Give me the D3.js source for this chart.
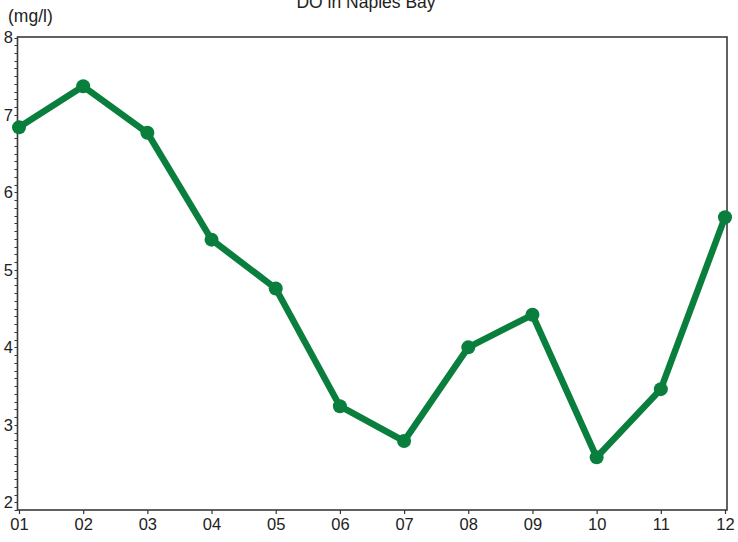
<!DOCTYPE html>
<html>
<head>
<meta charset="utf-8">
<script src="https://cdn.jsdelivr.net/npm/d3@7/dist/d3.min.js"></script>
<style>
  html, body { margin: 0; padding: 0; background: #fff; }
  svg { display: block; font-family: "Liberation Sans", Arial, sans-serif; }
</style>
</head>
<body>
<svg id="chart" width="738" height="542"></svg>
<script>
const months = ["01","02","03","04","05","06","07","08","09","10","11","12"];
const doValues = [6.84, 7.37, 6.77, 5.39, 4.76, 3.24, 2.79, 4.00, 4.42, 2.58, 3.46, 5.68];
const yTicks = [2, 3, 4, 5, 6, 7, 8];
const title = "DO in Naples Bay";
const unitLabel = "(mg/l)";

const svg = d3.select("#chart");
const mLeft = 17.5, mRight = 727, mTop = 37, mBottom = 510;

const x = d3.scalePoint().domain(months).range([19, 725]);
const y = d3.scaleLinear().domain([1.9, 8]).range([mBottom, mTop + 0.5]);

// minor ticks every 0.1
const minor = d3.range(19, 81).map(d => d / 10);

const yAxisG = svg.append("g").attr("transform", `translate(${mLeft},0)`);
yAxisG.selectAll("line.minor").data(minor).join("line")
  .attr("x1", -3).attr("x2", 0)
  .attr("y1", d => Math.round(y(d)) + 0.5).attr("y2", d => Math.round(y(d)) + 0.5)
  .attr("stroke", "#333").attr("stroke-width", 1);
yAxisG.selectAll("text").data(yTicks).join("text")
  .attr("x", -4.5).attr("y", d => y(d)).attr("dy", "0.36em")
  .attr("text-anchor", "end").attr("font-size", 16.5).attr("fill", "#222")
  .text(d => d);

const xAxis = d3.axisBottom(x).tickSize(4).tickSizeOuter(0).tickPadding(4);
const xg = svg.append("g").attr("transform", `translate(0,${mBottom})`).call(xAxis);
xg.select(".domain").remove();
xg.selectAll("line").attr("stroke", "#333").attr("stroke-width", 1.2);
xg.selectAll("text").attr("font-size", 16.5).attr("fill", "#222")
  .attr("font-family", "Liberation Sans, Arial, sans-serif");

// frame
svg.append("rect")
  .attr("x", mLeft).attr("y", mTop).attr("width", mRight - mLeft).attr("height", mBottom - mTop)
  .attr("fill", "none").attr("stroke", "#3a3a3a").attr("stroke-width", 1.6);

const color = "#0a7f3d";
const line = d3.line().x((d, i) => x(months[i])).y(d => y(d));
svg.append("path").datum(doValues)
  .attr("d", line).attr("fill", "none").attr("stroke", color)
  .attr("stroke-width", 6.5).attr("stroke-linejoin", "round");
svg.selectAll("circle.pt").data(doValues).join("circle")
  .attr("class", "pt")
  .attr("cx", (d, i) => x(months[i])).attr("cy", d => y(d)).attr("r", 7)
  .attr("fill", color);

svg.append("text").attr("x", 366).attr("y", 8).attr("text-anchor", "middle")
  .attr("font-size", 17.5).attr("fill", "#222").text(title);
svg.append("text").attr("x", 8).attr("y", 22).attr("font-size", 17.5)
  .attr("fill", "#222").text(unitLabel);
</script>
</body>
</html>
